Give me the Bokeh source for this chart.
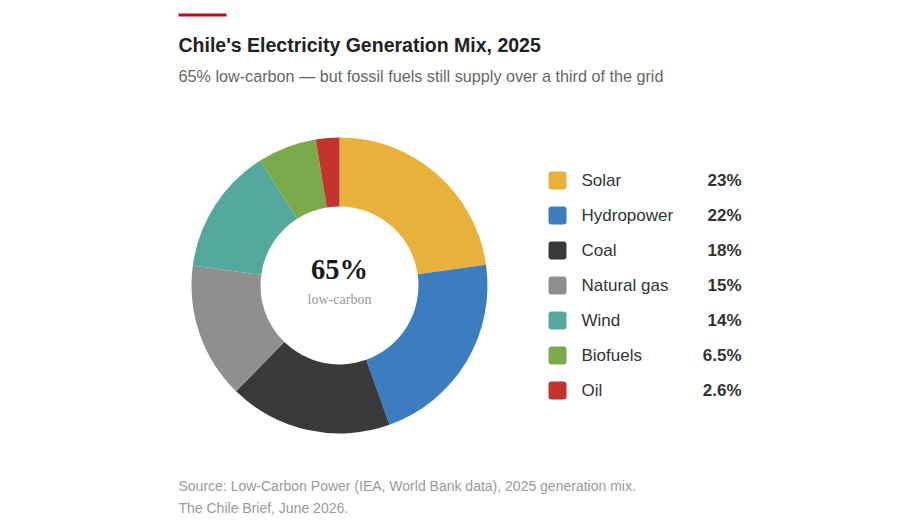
import math
from bokeh.plotting import figure
from bokeh.models import Range1d, ColumnDataSource
from bokeh.core.properties import value
from bokeh.embed import file_html
from bokeh.resources import INLINE

# ---- data ----
categories = ["Solar", "Hydropower", "Coal", "Natural gas", "Wind", "Biofuels", "Oil"]
shares = [23, 22, 18, 15, 14, 6.5, 2.6]
palette = ["#E8B23A", "#3B7DBF", "#3A3A3A", "#8F8F8F", "#55A89D", "#7BAA4B", "#C4342D"]
title = "Chile's Electricity Generation Mix, 2025"
subtitle = "65% low-carbon \u2014 but fossil fuels still supply over a third of the grid"
center_value = "65%"
center_label = "low-carbon"
source_lines = ["Source: Low-Carbon Power (IEA, World Bank data), 2025 generation mix.",
                "The Chile Brief, June 2026."]

W, H = 904, 525
p = figure(width=W, height=H, output_backend="svg", toolbar_location=None,
           x_range=Range1d(0, W), y_range=Range1d(-H, 0),
           min_border=0)
p.axis.visible = False
p.grid.visible = False
p.outline_line_color = None
p.background_fill_color = "white"
p.border_fill_color = "white"

SANS = value("Liberation Sans")
SERIF = value("Liberation Serif")

# red accent bar
p.quad(left=[178], right=[226], top=[-13], bottom=[-16], fill_color="#D0021B", line_color=None)

# title & subtitle
p.text(x=[178], y=[-44], text=[title], text_font=SANS, text_font_style="bold",
       text_font_size="19.5px", text_color="#222222", text_baseline="middle", text_align="left")
p.text(x=[178], y=[-75], text=[subtitle], text_font=SANS,
       text_font_size="16.2px", text_color="#666666", text_baseline="middle", text_align="left")

# donut
total = sum(shares)
starts, ends = [], []
acc = 0.0
for v in shares:
    a0 = math.pi / 2 - 2 * math.pi * acc / total
    acc += v
    a1 = math.pi / 2 - 2 * math.pi * acc / total
    starts.append(a0)
    ends.append(a1)
cx, cy = 339, -285
src = ColumnDataSource(dict(start=starts, end=ends, color=palette))
p.annular_wedge(x=cx, y=cy, inner_radius=79, outer_radius=148,
                start_angle="start", end_angle="end", direction="clock",
                fill_color="color", line_color=None, source=src)

p.text(x=[cx], y=[cy + 16], text=[center_value], text_font=SERIF, text_font_style="bold",
       text_font_size="28.5px", text_color="#1A1A1A", text_baseline="middle", text_align="center")
p.text(x=[cx], y=[cy - 14], text=[center_label], text_font=SERIF,
       text_font_size="14px", text_color="#999999", text_baseline="middle", text_align="center")

# legend
ys = [-(180 + 35 * i) for i in range(len(categories))]
p.rect(x=[557] * len(categories), y=ys, width=18, height=18, fill_color=palette,
       line_color=None, border_radius=3)
p.text(x=[581] * len(categories), y=ys, text=categories, text_font=SANS,
       text_font_size="17px", text_color="#333333", text_baseline="middle", text_align="left")
p.text(x=[741] * len(categories), y=ys, text=[f"{v:g}%" for v in shares], text_font=SANS,
       text_font_style="bold", text_font_size="17px", text_color="#333333",
       text_baseline="middle", text_align="right")

# footer
p.text(x=[178, 178], y=[-485, -507], text=source_lines, text_font=SANS,
       text_font_size="14px", text_color="#9A9A9A", text_baseline="middle", text_align="left")

open("out.html", "w").write(file_html(p, INLINE))
